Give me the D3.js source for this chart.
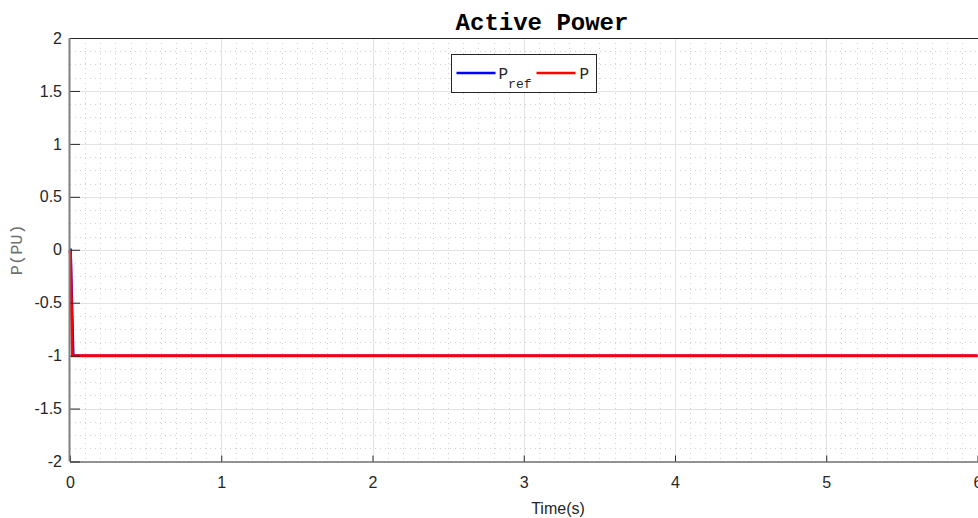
<!DOCTYPE html>
<html>
<head>
<meta charset="utf-8">
<script src="https://cdn.jsdelivr.net/npm/d3@7"></script>
<style>
  body { margin: 0; background: #fff; }
  svg { display: block; }
</style>
</head>
<body>
<svg id="chart" width="978" height="518"></svg>
<script>
// data
const xTicks = [0, 1, 2, 3, 4, 5, 6];
const yTicks = [-2, -1.5, -1, -0.5, 0, 0.5, 1, 1.5, 2];
const pRefT = [0, 0.004, 0.022, 6];
const pRefV = [0, 0, -1, -1];
const pT = [0, 0.003, 0.016, 6];
const pV = [0, -0.05, -1, -1];

const margin = {left: 70, top: 38, right: 0, bottom: 56};
const width = 978, height = 518;

const svg = d3.select("#chart");

// scales
const x = d3.scaleLinear().domain([0, 6]).range([margin.left, 977.5]);
const y = d3.scaleLinear().domain([-2, 2]).range([461.5, margin.top]);

const grid = svg.append("g");
// minor grid (dotted)
const xMinor = d3.range(0, 6.001, 0.1).filter(d => Math.abs(d - Math.round(d)) > 1e-6);
const yMinor = d3.range(-2, 2.001, 0.125).filter(d => Math.abs(d * 2 - Math.round(d * 2)) > 1e-6);
grid.selectAll("line.xminor")
    .data(xMinor)
    .join("line")
    .attr("class", "xminor")
    .attr("x1", d => Math.round(x(d)) + 0.5).attr("x2", d => Math.round(x(d)) + 0.5)
    .attr("y1", y(2)).attr("y2", y(-2))
    .style("stroke", "#d0d0d0").style("stroke-width", 1).style("stroke-dasharray", "1,4");
grid.selectAll("line.yminor")
    .data(yMinor)
    .join("line")
    .attr("class", "yminor")
    .attr("x1", x(0)).attr("x2", width)
    .attr("y1", d => Math.round(y(d)) + 0.5).attr("y2", d => Math.round(y(d)) + 0.5)
    .style("stroke", "#d0d0d0").style("stroke-width", 1).style("stroke-dasharray", "1,4");
// major grid
grid.selectAll("line.xmajor")
    .data(xTicks.slice(1))
    .join("line")
    .attr("class", "xmajor")
    .attr("x1", d => Math.round(x(d)) + 0.5).attr("x2", d => Math.round(x(d)) + 0.5)
    .attr("y1", y(2)).attr("y2", y(-2))
    .style("stroke", "#e3e3e3");
grid.selectAll("line.ymajor")
    .data(yTicks.slice(1, -1))
    .join("line")
    .attr("class", "ymajor")
    .attr("x1", x(0)).attr("x2", width)
    .attr("y1", d => Math.round(y(d)) + 0.5).attr("y2", d => Math.round(y(d)) + 0.5)
    .style("stroke", "#e3e3e3");

// lines
const line = d3.line().x(d => x(d[0])).y(d => y(d[1]));
svg.append("path")
    .datum(d3.zip(pRefT, pRefV))
    .attr("d", line)
    .style("fill", "none").style("stroke", "#0000ff").style("stroke-width", 2.5);
svg.append("path")
    .datum(d3.zip(pT, pV))
    .attr("d", line)
    .style("fill", "none").style("stroke", "#ff0000").style("stroke-width", 3)
    .style("stroke-opacity", 0.97);

// axes
const xAxis = svg.append("g")
    .attr("transform", `translate(0,${y(-2)})`)
    .call(d3.axisBottom(x).tickValues(xTicks).tickSize(-6).tickPadding(15).tickFormat(d3.format("d")));
const yAxis = svg.append("g")
    .attr("transform", `translate(${x(0)},0)`)
    .call(d3.axisLeft(y).tickValues(yTicks).tickSize(-10).tickPadding(8).tickFormat(d => d));
[xAxis, yAxis].forEach(a => {
    a.select(".domain").remove();
    a.selectAll("text").style("font-family", "'Liberation Sans', Arial, sans-serif")
        .style("font-size", "16px").style("fill", "#262626");
    a.selectAll(".tick line").style("stroke", "#262626");
});
xAxis.selectAll("text").attr("dy", "0.71em");
// box edges
svg.append("line").attr("x1", x(0)).attr("x2", width).attr("y1", y(-2) + 0.5).attr("y2", y(-2) + 0.5)
    .style("stroke", "#262626");
svg.append("line").attr("x1", x(0)).attr("x2", width).attr("y1", y(2) + 0.5).attr("y2", y(2) + 0.5)
    .style("stroke", "#262626");
svg.append("line").attr("x1", x(0) - 0.5).attr("x2", x(0) - 0.5).attr("y1", y(2)).attr("y2", y(-2))
    .style("stroke", "#808080").style("stroke-width", 2);

// labels
svg.append("text")
    .attr("x", 542).attr("y", 30)
    .attr("text-anchor", "middle")
    .style("font-family", "'Liberation Mono', 'Courier New', monospace")
    .style("font-weight", "bold").style("font-size", "24px")
    .text("Active Power");
svg.append("text")
    .attr("x", (x(0) + width) / 2 + 34).attr("y", 514)
    .attr("text-anchor", "middle")
    .style("font-family", "'Liberation Sans', Arial, sans-serif")
    .style("font-size", "16px").style("fill", "#262626")
    .text("Time(s)");
svg.append("text")
    .attr("transform", `translate(22,${y(0)}) rotate(-90)`)
    .attr("text-anchor", "middle")
    .style("font-family", "'Liberation Mono', 'Courier New', monospace")
    .style("font-size", "17px").style("fill", "#707070")
    .text("P(PU)");

// legend
const legend = svg.append("g").attr("transform", "translate(451.5,54.5)");
legend.append("rect")
    .attr("width", 145).attr("height", 38)
    .style("fill", "#fff").style("stroke", "#262626");
legend.append("line").attr("x1", 5).attr("x2", 44).attr("y1", 18.5).attr("y2", 18.5)
    .style("stroke", "#0000ff").style("stroke-width", 2.5);
const lt = legend.append("text").attr("x", 47).attr("y", 24)
    .style("font-family", "'Liberation Mono', 'Courier New', monospace")
    .style("font-size", "16px").style("fill", "#262626");
lt.append("tspan").text("P");
lt.append("tspan").attr("dy", 9).style("font-size", "13px").text("ref");
legend.append("line").attr("x1", 85).attr("x2", 124).attr("y1", 18.5).attr("y2", 18.5)
    .style("stroke", "#ff0000").style("stroke-width", 2.5);
legend.append("text").attr("x", 128).attr("y", 24)
    .style("font-family", "'Liberation Mono', 'Courier New', monospace")
    .style("font-size", "16px").style("fill", "#262626")
    .text("P");
</script>
</body>
</html>
